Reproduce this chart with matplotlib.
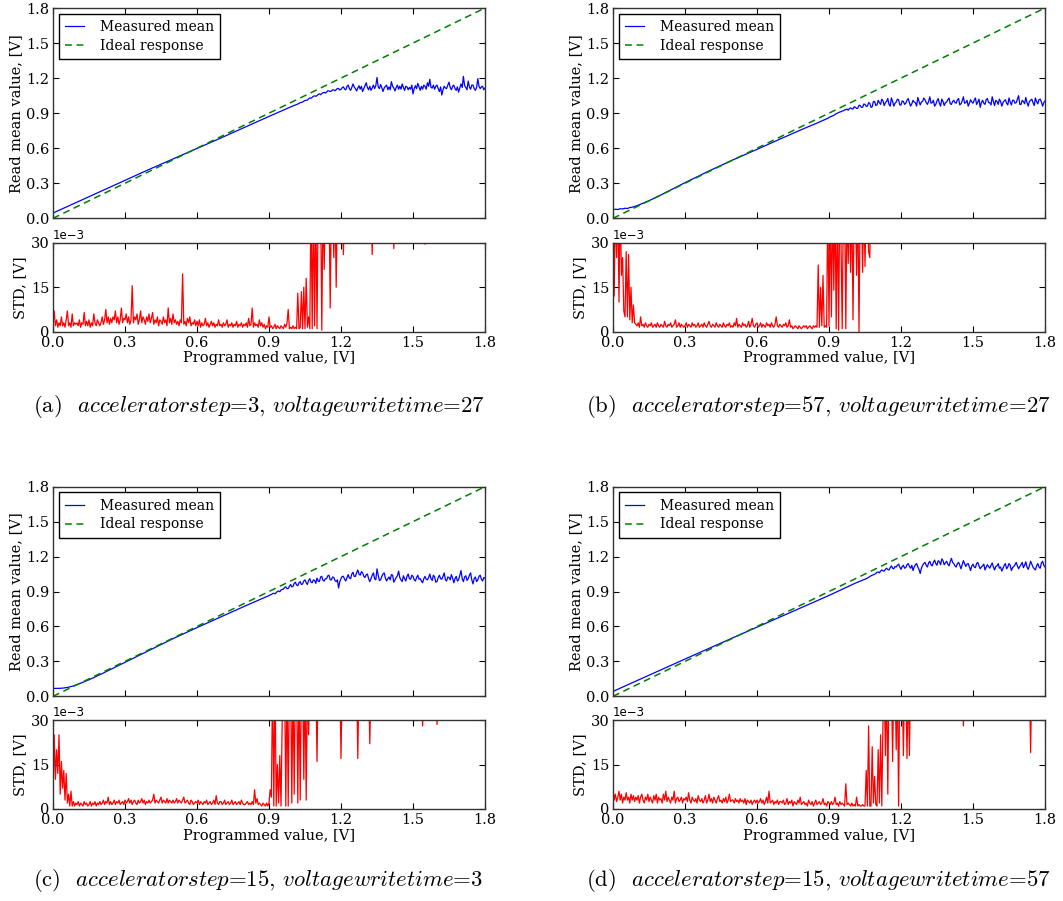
import matplotlib
matplotlib.use("Agg")
import matplotlib.pyplot as plt
import numpy as np

plt.rcParams['font.family'] = 'DejaVu Serif'
plt.rcParams['mathtext.fontset'] = 'cm'

# ---------------- DATA ----------------
STEP = 0.005   # programmed-value step of the dense (noisy / STD) series, V

captions = [
    r'(a)  $acceleratorstep$=3, $voltagewritetime$=27',
    r'(b)  $acceleratorstep$=57, $voltagewritetime$=27',
    r'(c)  $acceleratorstep$=15, $voltagewritetime$=3',
    r'(d)  $acceleratorstep$=15, $voltagewritetime$=57',
]

ideal_x = [0.0, 1.8]
ideal_y = [0.0, 1.8]

# ---- measured mean (mV): smooth part as knots, noisy part on the STEP grid ----
a_mean_knots_x = [0, 0.1, 0.2, 0.3, 0.4, 0.5, 0.6, 0.7, 0.8, 0.9, 0.995]
a_mean_knots_y = [45, 138, 232, 325, 418, 508, 597, 688, 780, 872, 958]
a_noisy_start = 1.00
a_mean_noisy = [
    962, 966, 970, 975, 978, 984, 990, 992, 995, 1003, 1008, 1010, 1012, 1022, 1030, 1028, 1035, 1045, 1048, 1044,
    1050, 1060, 1065, 1058, 1068, 1075, 1078, 1072, 1080, 1092, 1090, 1085, 1088, 1100, 1098, 1092, 1100, 1112, 1110, 1098,
    1104, 1118, 1125, 1105, 1100, 1130, 1140, 1110, 1095, 1120, 1150, 1125, 1110, 1090, 1115, 1135, 1105, 1130, 1085, 1110,
    1135, 1160, 1120, 1100, 1130, 1095, 1115, 1140, 1110, 1135, 1205, 1125, 1110, 1145, 1120, 1085, 1115, 1130, 1140, 1100,
    1125, 1100, 1170, 1130, 1115, 1090, 1120, 1140, 1105, 1130, 1105, 1150, 1120, 1095, 1130, 1125, 1100, 1120, 1105, 1140,
    1065, 1110, 1135, 1110, 1155, 1125, 1095, 1130, 1105, 1140, 1130, 1105, 1160, 1130, 1190, 1120, 1115, 1140, 1105, 1130,
    1140, 1110, 1085, 1125, 1055, 1100, 1130, 1115, 1110, 1140, 1165, 1120, 1100, 1130, 1140, 1110, 1095, 1125, 1080, 1115,
    1150, 1120, 1215, 1135, 1120, 1100, 1175, 1125, 1105, 1140, 1140, 1110, 1095, 1120, 1195, 1130, 1110, 1125, 1130, 1100,
    1115,
]

b_mean_knots_x = [0, 0.01, 0.02, 0.03, 0.04, 0.05, 0.06, 0.07, 0.08, 0.1, 0.15, 0.2,
                  0.3, 0.4, 0.5, 0.6, 0.7, 0.8, 0.85, 0.895]
b_mean_knots_y = [72, 78, 75, 82, 80, 86, 84, 92, 95, 108, 150, 200,
                  305, 405, 500, 590, 682, 772, 815, 856]
b_noisy_start = 0.90
b_mean_noisy = [
    862, 868, 872, 878, 880, 890, 895, 900, 905, 910, 912, 918, 920, 928, 930, 935, 925, 940, 945, 938,
    935, 955, 950, 940, 942, 968, 965, 950, 950, 978, 975, 958, 960, 990, 985, 950, 955, 1000, 1000, 965,
    970, 1010, 990, 975, 1020, 1005, 965, 990, 1000, 1025, 975, 960, 1030, 1000, 960, 985, 995, 1020, 1015, 970,
    970, 1005, 1000, 975, 985, 1010, 1025, 990, 960, 980, 1010, 995, 990, 960, 1035, 1000, 970, 995, 1000, 1030,
    1015, 990, 975, 1000, 1040, 985, 990, 1010, 960, 975, 1005, 1025, 985, 960, 1020, 1000, 965, 990, 995, 1015,
    1030, 980, 975, 1000, 1010, 990, 985, 1015, 1025, 970, 980, 1005, 1040, 985, 990, 1010, 960, 985, 1015, 995,
    985, 1010, 1030, 975, 995, 1020, 950, 990, 1010, 985, 975, 1015, 1025, 990, 990, 970, 1040, 1000, 965, 1010,
    1000, 975, 1020, 1000, 960, 990, 1005, 1015, 985, 970, 1030, 995, 970, 1010, 1010, 985, 990, 1020, 1050, 975,
    975, 1010, 1000, 980, 1035, 990, 960, 1000, 1010, 1020, 990, 965, 1030, 1000, 980, 1015, 1020, 995, 960, 990,
    1005,
]

c_mean_knots_x = [0, 0.02, 0.04, 0.06, 0.08, 0.1, 0.15, 0.2, 0.3, 0.4, 0.5, 0.6,
                  0.7, 0.8, 0.895]
c_mean_knots_y = [68, 68, 70, 76, 86, 100, 142, 190, 292, 395, 495, 590,
                  683, 775, 860]
c_noisy_start = 0.90
c_mean_noisy = [
    865, 870, 875, 882, 885, 880, 890, 900, 905, 898, 912, 918, 920, 935, 940, 925, 925, 945, 960, 940,
    945, 970, 980, 955, 950, 975, 985, 960, 965, 990, 1000, 975, 960, 995, 1010, 980, 975, 1000, 995, 970,
    1015, 990, 985, 1025, 1030, 995, 990, 1010, 1010, 1035, 1040, 1000, 1000, 1025, 1020, 995, 985, 1000, 930, 985,
    1010, 1030, 1030, 1005, 990, 1020, 1045, 1015, 1010, 1050, 1065, 1030, 1030, 1060, 1085, 1050, 1040, 1070, 1060, 1030,
    1020, 1045, 1050, 1010, 985, 1010, 1040, 1060, 1010, 1000, 1095, 1040, 995, 1000, 1030, 1050, 1060, 1015, 990, 1010,
    1025, 1000, 1045, 1040, 980, 1000, 1020, 1035, 1075, 1020, 1000, 985, 1035, 1010, 990, 1030, 1050, 1010, 1005, 1040,
    1030, 1000, 990, 1020, 1040, 1005, 1010, 990, 975, 1010, 1030, 1005, 1000, 1020, 1050, 1010, 995, 1040, 1025, 980,
    985, 1020, 1040, 1010, 1005, 1030, 1060, 1000, 990, 1025, 1020, 1000, 1045, 1015, 975, 1010, 1030, 990, 1000, 1040,
    1080, 1010, 985, 1025, 1035, 995, 1010, 1040, 1060, 1000, 965, 1010, 1025, 985, 1000, 1030, 1040, 1005, 990, 1020,
    1015,
]

d_mean_knots_x = [0, 0.1, 0.2, 0.3, 0.4, 0.5, 0.6, 0.7, 0.8, 0.9, 0.995]
d_mean_knots_y = [42, 135, 228, 320, 412, 503, 594, 685, 775, 866, 958]
d_noisy_start = 1.00
d_mean_noisy = [
    963, 968, 972, 976, 980, 985, 988, 993, 998, 1002, 1005, 1010, 1015, 1022, 1030, 1035, 1040, 1044, 1048, 1055,
    1065, 1068, 1060, 1075, 1085, 1078, 1075, 1090, 1100, 1088, 1085, 1105, 1120, 1100, 1095, 1115, 1110, 1125, 1135, 1110,
    1090, 1115, 1125, 1100, 1105, 1130, 1140, 1115, 1100, 1125, 1080, 1110, 1130, 1140, 1110, 1090, 1055, 1100, 1125, 1140,
    1150, 1125, 1110, 1145, 1160, 1130, 1120, 1150, 1170, 1140, 1125, 1165, 1155, 1130, 1180, 1165, 1130, 1145, 1160, 1135,
    1120, 1155, 1185, 1150, 1140, 1120, 1110, 1140, 1150, 1125, 1095, 1130, 1165, 1140, 1115, 1135, 1140, 1110, 1080, 1120,
    1135, 1110, 1105, 1140, 1150, 1120, 1095, 1110, 1120, 1135, 1085, 1110, 1130, 1115, 1100, 1125, 1145, 1110, 1085, 1115,
    1120, 1140, 1100, 1110, 1075, 1100, 1125, 1140, 1095, 1110, 1140, 1125, 1080, 1105, 1115, 1130, 1150, 1120, 1095, 1115,
    1130, 1150, 1105, 1125, 1155, 1110, 1090, 1120, 1160, 1135, 1110, 1095, 1085, 1120, 1140, 1110, 1100, 1145, 1160, 1125,
    1110,
]

# ---- STD (units of 1e-3 V) on x = 0 ... 1.8 (STEP grid); 45 = off the top of the scale ----
a_std = [
    3, 7, 2, 4, 1.5, 3, 2, 5, 2, 3, 1.5, 4, 7, 2, 3, 1.5, 6, 2, 3, 2.5,
    3, 2, 4, 1.5, 3, 2.5, 6.5, 2, 3.5, 2, 4, 1.5, 3, 2, 6, 3, 2, 4, 3, 2,
    3, 5, 2.5, 4, 7.5, 3, 5, 2.5, 4.5, 3, 5, 4, 7, 3, 5, 2.5, 4, 8, 3, 4.5,
    4, 6, 3, 5, 2.5, 4, 15.5, 3, 5, 4, 6, 2.5, 4, 7, 3, 5, 4, 2.5, 5, 3.5,
    6, 3, 4.5, 6.5, 2.5, 4, 3, 5, 2, 4, 3.5, 2.5, 5, 3, 4, 2, 8, 3, 4.5, 2.5,
    6, 3, 4, 2.5, 3.5, 2, 4, 3, 19.5, 2.5, 3.5, 2, 4.5, 3, 5, 2, 3, 2.5, 4, 2,
    3.5, 2, 4, 1.5, 3, 2, 2.5, 4.5, 2, 3, 1.5, 2.5, 3.5, 2, 3, 1.5, 2.5, 2, 4, 2,
    2.5, 1.5, 3, 2, 2.5, 4, 1.5, 2.5, 2, 3, 1.5, 2.5, 2, 3.5, 1.5, 2.5, 2, 3, 1.5, 2.5,
    2, 3, 1.5, 4.5, 2, 2.5, 8, 1.5, 3, 2, 2.5, 1.5, 4, 2, 3, 1.5, 2.5, 1, 2, 1.5,
    5, 1.5, 2, 1, 1.5, 2.5, 1, 2, 1.5, 1, 2, 1.5, 1, 2.5, 1.5, 3, 7.5, 1, 1.5, 1,
    2, 1, 1.5, 1, 13, 1, 1.5, 13.5, 1, 15, 1, 18, 1.5, 5, 1, 45, 1, 45, 2, 45,
    1, 45, 45, 45, 0.5, 45, 21, 45, 45, 30, 45, 8, 45, 45, 25, 45, 15, 45, 45, 45,
] + [45, 45, 26] + [45] * 17 \
  + [45] * 6 + [26] + [45] * 13 \
  + [45] * 4 + [28] + [45] * 15 \
  + [45] * 10 + [29.5] + [45] * 9 \
  + [45] * 41

b_std = [
    45, 12, 45, 25, 45, 10, 45, 19, 25, 7, 5, 27, 5, 26, 4, 15, 3, 9, 3, 2.5,
    2, 3, 1.5, 5, 2, 2.5, 1.5, 3, 2, 1.5, 2.5, 2, 3, 1.5, 2, 2.5, 1.5, 3, 2, 1.5,
    2.5, 2, 1.5, 3.5, 2, 1.5, 2.5, 2, 3, 1.5, 2, 2.5, 4, 1.5, 2, 3, 1.5, 2.5, 2, 1.5,
    2, 3, 1.5, 2.5, 2, 1.5, 3, 2, 2.5, 1.5, 2, 3, 1.5, 2, 2.5, 1.5, 3, 2, 1.5, 2.5,
    3.5, 2, 1.5, 2.5, 2, 1.5, 3, 2, 1.5, 2.5, 2, 1.5, 3, 2, 1.5, 2.5, 2, 3, 1.5, 2,
    1.5, 3, 2, 4.5, 1.5, 2.5, 2, 1.5, 3, 2, 2.5, 1.5, 2, 3.5, 1.5, 2.5, 4.5, 2, 1.5, 2.5,
    3, 1.5, 2, 3, 1.5, 2.5, 2, 1.5, 3, 2, 2.5, 1.5, 3, 2, 1.5, 2.5, 5, 2, 1.5, 2.5,
    2, 1.5, 2.5, 2, 3, 1.5, 2, 4, 1.5, 2, 1, 1.5, 2, 1.5, 1, 2, 1.5, 1, 1.5, 2,
    1.5, 2, 1, 1.5, 2, 1.5, 1, 2, 1.5, 2, 1.5, 22.5, 1.5, 15, 2, 19, 1.5, 2, 1.5, 45,
    2, 45, 5, 45, 14, 45, 1, 45, 0.5, 45, 30, 1, 45, 45, 1, 45, 23, 45, 20, 45,
    4, 45, 45, 19, 45, 0, 45, 45, 20, 45, 22, 45, 45, 27, 25, 45, 45, 45, 45, 45,
] + [45] * 141

c_std = [
    4, 25, 10, 20, 12, 25, 5, 16, 7, 13, 3, 12, 2, 5, 1, 6, 1, 2.5, 1, 2,
    1.5, 2.5, 1, 2, 1.5, 1, 2.5, 1.5, 2, 1, 1.5, 2.5, 1, 2, 1.5, 2.5, 1, 2, 1.5, 2.5,
    1.5, 2, 3, 1.5, 2.5, 2, 4, 1.5, 2.5, 1.5, 2, 3, 1.5, 2.5, 2, 3, 1.5, 2, 2.5, 1.5,
    3, 2, 2.5, 3.5, 2, 3, 1.5, 2.5, 3, 2, 1.5, 3, 2, 2.5, 3.5, 2, 3, 1.5, 2.5, 2,
    3, 2, 2.5, 3, 5, 2, 3, 2.5, 2, 3, 4, 2, 3, 2.5, 2, 3.5, 2, 3, 2.5, 2,
    3, 2, 2.5, 3.5, 2, 3, 2.5, 2, 3, 4, 2, 2.5, 3, 2, 1.5, 3, 2.5, 1.5, 2, 2.5,
    2, 3, 1.5, 2.5, 2, 1.5, 2.5, 2, 3, 1.5, 2, 2.5, 1.5, 2, 3, 1.5, 4.5, 2, 1.5, 2.5,
    2.5, 1.5, 2, 3, 1.5, 2, 2.5, 1.5, 2, 3, 1.5, 2, 2.5, 1.5, 2, 2.5, 1.5, 3, 2, 1.5,
    1.5, 2, 2.5, 1.5, 2, 1.5, 2.5, 1.5, 6.5, 2, 3.5, 1.5, 2, 1.5, 1, 2, 1.5, 1, 2, 1,
    2, 6.5, 4, 45, 1, 45, 1, 15, 2, 18, 1, 30, 45, 45, 1, 45, 1, 45, 45, 2,
    45, 5, 45, 45, 2, 45, 3, 45, 45, 10, 45, 3, 45, 25, 45, 45, 45, 45, 45, 45,
] + [16] + [45] * 19 \
  + [17] + [45] * 13 + [17] + [45] * 5 \
  + [45] * 4 + [22] + [45] * 15 \
  + [45] * 20 \
  + [45] * 8 + [28] + [45] * 11 \
  + [28.5] + [45] * 19 \
  + [45] * 21

d_std = [
    7, 3, 5, 2.5, 4, 6, 3, 5, 2, 4, 3, 5.5, 3, 4, 2, 5, 3, 4.5, 2.5, 4,
    3, 4.5, 2, 4, 5, 3, 2, 4, 3, 5, 2.5, 4, 3, 2, 4.5, 3, 5, 2, 4, 3,
    3.5, 2, 5, 3, 6, 2.5, 4, 3, 2, 4, 3, 6, 2, 3.5, 4, 2.5, 3, 4, 2, 3.5,
    3, 4, 2.5, 5.5, 3, 2, 4, 3, 2.5, 3.5, 2, 4.5, 3, 2.5, 3.5, 2, 3, 4.5, 2, 3,
    5, 2.5, 3.5, 2, 4, 3, 2, 3.5, 4.5, 2.5, 3, 2, 3.5, 2.5, 4, 2, 3, 5, 2.5, 3,
    3, 2, 3.5, 2.5, 3, 2, 3.5, 2.5, 3, 2, 3.5, 1.5, 3, 2.5, 2, 3, 1.5, 2.5, 3, 2,
    3, 2, 2.5, 3.5, 2, 3, 1.5, 2.5, 4, 2, 6, 2, 2.5, 3, 1.5, 2.5, 2, 3, 1.5, 2.5,
    2.5, 2, 3, 1.5, 2, 3.5, 1.5, 2.5, 2, 3, 1, 2.5, 2, 1.5, 3, 2, 4, 1.5, 2, 2.5,
    1.5, 2, 1, 3, 2, 1.5, 2.5, 1, 2, 3, 1.5, 2, 2.5, 1.5, 2, 3.5, 1.5, 2, 1, 2.5,
    2, 1.5, 2.5, 1.5, 2, 4, 1.5, 2, 1, 2.5, 1.5, 2, 1.5, 1, 8.5, 1.5, 2, 1.5, 1, 2,
    1, 1.5, 1, 4, 1, 1.5, 1, 1, 1.5, 1, 1, 13, 1, 28, 1, 1, 21, 2, 11, 1.5,
    1, 20, 2, 25, 1, 30, 45, 18, 45, 5, 45, 45, 45, 16, 45, 45, 20, 45, 1, 45,
] + [45, 45, 18, 45, 45, 17, 45, 18] + [45] * 12 \
  + [45] * 20 \
  + [45] * 12 + [28] + [45] * 7 \
  + [45] * 40 \
  + [45] * 8 + [19] + [45] * 11 \
  + [45]

ticks_v = [0.0, 0.3, 0.6, 0.9, 1.2, 1.5, 1.8]
std_ticks = [0.0, 0.015, 0.030]

# ---------------- LAYOUT ----------------
W, H = 1063, 901
fig = plt.figure(figsize=(W / 100, H / 100), dpi=100)


def rect(l, t, w, h):
    return [l / W, 1 - (t + h) / H, w / W, h / H]


col_left = [53, 613]
top_rows = [(8, 218.3, 242.7, 331.7), (486.7, 696.3, 720, 809)]
cap_pos = [(33, 407), (586, 407), (33, 880), (586, 880)]

panels = [
    (a_mean_knots_x, a_mean_knots_y, a_noisy_start, a_mean_noisy, a_std),
    (b_mean_knots_x, b_mean_knots_y, b_noisy_start, b_mean_noisy, b_std),
    (c_mean_knots_x, c_mean_knots_y, c_noisy_start, c_mean_noisy, c_std),
    (d_mean_knots_x, d_mean_knots_y, d_noisy_start, d_mean_noisy, d_std),
]

SPINE = '#333333'
FS = 10.5


def style(ax):
    for s in ax.spines.values():
        s.set_color(SPINE)
        s.set_linewidth(1.0)
    ax.tick_params(direction='in', top=True, right=True, length=4.5,
                   width=0.8, color='black', labelsize=FS)
    ax.tick_params(axis='x', pad=3)
    ax.tick_params(axis='y', pad=2.5)


for i, (kx, ky, nstart, nvals, stdv) in enumerate(panels):
    row, col = divmod(i, 2)
    t1, b1, t2, b2 = top_rows[row]
    L = col_left[col]
    ax1 = fig.add_axes(rect(L, t1, 432, b1 - t1))
    ax2 = fig.add_axes(rect(L, t2, 432, b2 - t2))

    nx = nstart + STEP * np.arange(len(nvals))
    mx = np.concatenate([np.asarray(kx, float), nx])
    my = np.concatenate([np.asarray(ky, float), np.asarray(nvals, float)]) / 1000.0
    ax1.plot(mx, my, color='b', lw=0.9, label='Measured mean')
    ax1.plot(ideal_x, ideal_y, color='g', lw=1.1, ls='--', dashes=(4.5, 3),
             label='Ideal response')
    ax1.set_xlim(0, 1.8)
    ax1.set_ylim(0, 1.8)
    ax1.set_xticks(ticks_v)
    ax1.set_yticks(ticks_v)
    ax1.set_xticklabels([])
    ax1.set_ylabel('Read mean value, [V]', fontsize=FS)
    style(ax1)
    leg = ax1.legend(loc='upper left', fontsize=10, fancybox=False,
                     frameon=True, framealpha=1, edgecolor='black',
                     handlelength=1.4, handletextpad=1.1, borderpad=0.45,
                     labelspacing=0.35, borderaxespad=0.4)
    leg.get_frame().set_linewidth(1.0)

    sx = STEP * np.arange(len(stdv))
    sy = np.asarray(stdv, float) * 1e-3
    ax2.plot(sx, sy, color='r', lw=0.9)
    ax2.set_xlim(0, 1.8)
    ax2.set_ylim(0, 0.030)
    ax2.set_xticks(ticks_v)
    ax2.set_yticks(std_ticks)
    ax2.ticklabel_format(axis='y', style='sci', scilimits=(-3, -3))
    ax2.set_xlabel('Programmed value, [V]', fontsize=FS, labelpad=1)
    ax2.set_ylabel('STD, [V]', fontsize=FS)
    style(ax2)
    ot = ax2.yaxis.get_offset_text()
    ot.set_family('DejaVu Sans')
    ot.set_fontsize(8.5)

    ax1.yaxis.set_label_coords(-0.069, 0.5)
    ax2.yaxis.set_label_coords(-0.060, 0.5)

    cx, cy = cap_pos[i]
    fig.text(cx / W, 1 - cy / H, captions[i], family='cmr10', fontsize=16.4,
             ha='left', va='center')

fig.savefig('out.png', dpi=100)
